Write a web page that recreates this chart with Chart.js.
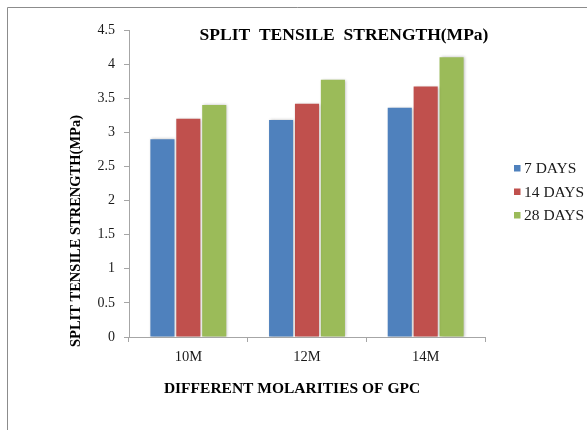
<!DOCTYPE html>
<html>
<head>
<meta charset="utf-8">
<script src="https://cdn.jsdelivr.net/npm/chart.js@4/dist/chart.umd.min.js"></script>
<style>
  html, body { margin: 0; padding: 0; background: #ffffff; }
  #wrap { width: 587px; height: 430px; position: relative; }
</style>
</head>
<body>
<div id="wrap"><canvas id="c" width="587" height="430"></canvas></div>
<script>
// Split tensile strength of GPC at three molarities
const categories = ['10M', '12M', '14M'];
const days7  = [2.90, 3.18, 3.36];
const days14 = [3.20, 3.42, 3.67];
const days28 = [3.40, 3.77, 4.10];
const seriesLabels = ['7 DAYS', '14 DAYS', '28 DAYS'];
const seriesColors = ['#4F81BD', '#C0504D', '#9BBB59'];
const yTicks = [0, 0.5, 1, 1.5, 2, 2.5, 3, 3.5, 4, 4.5];

const chartTitle = 'SPLIT  TENSILE  STRENGTH(MPa)';
const xTitle = 'DIFFERENT MOLARITIES OF GPC';
const yTitle = 'SPLIT TENSILE STRENGTH(MPa)';

const SERIF = '"Liberation Serif", "Times New Roman", serif';

// Outer frame, headings and the legend drawn around the plot
const decorations = {
  id: 'decorations',
  beforeDraw(chart) {
    const ctx = chart.ctx;
    ctx.save();
    ctx.fillStyle = '#ffffff';
    ctx.fillRect(0, 0, chart.width, chart.height);
    ctx.strokeStyle = '#8c8c8c';
    ctx.lineWidth = 1;
    ctx.beginPath();
    ctx.moveTo(7.5, chart.height + 2);
    ctx.lineTo(7.5, 7.5);
    ctx.lineTo(chart.width + 2, 7.5);
    ctx.stroke();
    ctx.restore();
  },
  afterDraw(chart) {
    const ctx = chart.ctx;
    ctx.save();
    ctx.fillStyle = '#000000';
    ctx.textBaseline = 'middle';
    ctx.textAlign = 'center';
    ctx.font = 'bold 17.5px ' + SERIF;
    ctx.fillText(chartTitle, 344, 35);

    ctx.font = 'bold 15.5px ' + SERIF;
    ctx.fillText(xTitle, 292, 389);

    ctx.save();
    ctx.translate(76, 231);
    ctx.rotate(-Math.PI / 2);
    ctx.font = 'bold 14.5px ' + SERIF;
    ctx.fillText(yTitle, 0, 0);
    ctx.restore();

    // legend
    ctx.textAlign = 'left';
    ctx.font = '15.5px ' + SERIF;
    chart.data.datasets.forEach((ds, i) => {
      const y = 168 + i * 23.5;
      ctx.fillStyle = ds.backgroundColor;
      ctx.fillRect(514, y - 3, 6.5, 6.5);
      ctx.fillStyle = '#1a1a1a';
      ctx.fillText(ds.label, 524, y + 1);
    });
    ctx.restore();
  }
};

// Soft shadow around the bars
const barShadow = {
  id: 'barShadow',
  beforeDatasetsDraw(chart) {
    const ctx = chart.ctx;
    ctx.save();
    ctx.shadowColor = 'rgba(0,0,0,0.28)';
    ctx.shadowBlur = 3;
    ctx.shadowOffsetX = 1;
    ctx.shadowOffsetY = 0;
  },
  afterDatasetsDraw(chart) {
    chart.ctx.restore();
  }
};

const seriesValues = [days7, days14, days28];

new Chart(document.getElementById('c'), {
  type: 'bar',
  data: {
    labels: categories,
    datasets: seriesValues.map((vals, i) => ({
      label: seriesLabels[i],
      data: vals,
      backgroundColor: seriesColors[i],
      borderWidth: 0,
      categoryPercentage: 0.655,
      barPercentage: 0.93
    }))
  },
  options: {
    responsive: false,
    animation: false,
    devicePixelRatio: 1,
    layout: { padding: { left: 0, right: 102, top: 30, bottom: 0 } },
    plugins: {
      legend: { display: false },
      title: { display: false },
      tooltip: { enabled: false }
    },
    scales: {
      x: {
        grid: {
          display: true,
          drawOnChartArea: false,
          drawTicks: true,
          tickLength: 5,
          color: '#a6a6a6',
          offset: true
        },
        border: { display: true, color: '#a6a6a6', width: 1 },
        ticks: {
          color: '#1a1a1a',
          font: { family: SERIF, size: 14.5 },
          padding: 6
        },
        afterFit(scale) { scale.height = 93; }
      },
      y: {
        min: 0,
        max: 4.5,
        afterBuildTicks(scale) { scale.ticks = yTicks.map(v => ({ value: v })); },
        grid: {
          display: true,
          drawOnChartArea: false,
          drawTicks: true,
          tickLength: 5,
          color: '#a6a6a6'
        },
        border: { display: true, color: '#a6a6a6', width: 1 },
        ticks: {
          color: '#1a1a1a',
          font: { family: SERIF, size: 14 },
          padding: 9,
          callback: (v) => String(v)
        },
        afterFit(scale) { scale.width = 129; }
      }
    }
  },
  plugins: [decorations, barShadow]
});
</script>
</body>
</html>
